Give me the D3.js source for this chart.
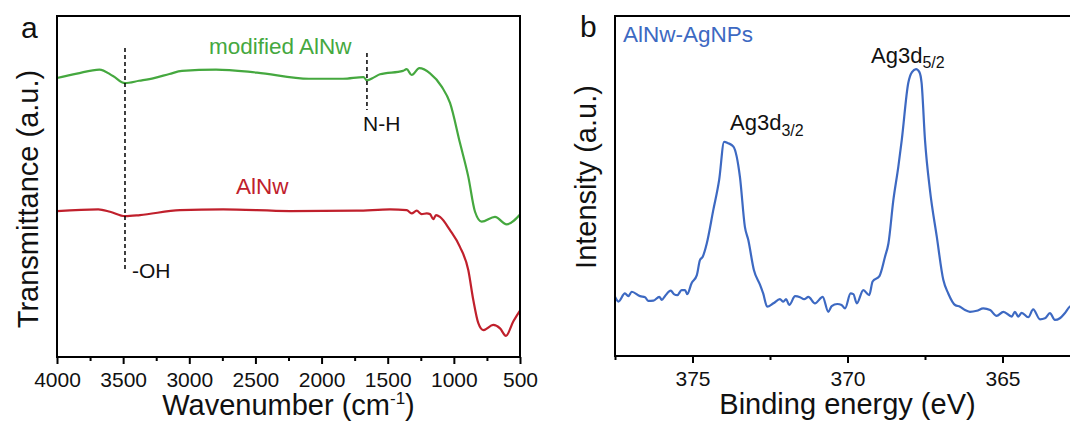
<!DOCTYPE html>
<html>
<head>
<meta charset="utf-8">
<script src="https://cdn.jsdelivr.net/npm/d3@7"></script>
<style>
  html, body { margin: 0; padding: 0; background: #fff; }
  svg { display: block; font-family: "Liberation Sans", Arial, sans-serif; }
</style>
</head>
<body>
<svg id="chart" width="1070" height="425"></svg>
<script>
// ---------------- Panel a: FTIR data ----------------
const modifiedWavenumber = [4000, 3850, 3679, 3577, 3486, 3380, 3267, 3150, 3055, 2798, 2488, 2095, 1838, 1683, 1657, 1604, 1558, 1385, 1357, 1319, 1261, 1180, 1092, 1029, 954, 891, 840, 790, 689, 601, 500];
const modifiedTransmittance = [81.8, 83.1, 84.3, 82.4, 80.3, 81.0, 81.8, 83.0, 83.9, 84.3, 83.4, 81.6, 81.6, 82.1, 81.1, 82.0, 82.9, 83.9, 84.4, 82.7, 84.7, 83.2, 79.3, 74.5, 62.8, 52.9, 42.6, 39.7, 41.1, 38.9, 41.8];

const pristineWavenumber = [4000, 3688, 3599, 3486, 3373, 3070, 2745, 2239, 1735, 1483, 1357, 1319, 1281, 1243, 1205, 1180, 1156, 1135, 1105, 1029, 954, 891, 853, 815, 778, 702, 651, 606, 551, 500];
const pristineTransmittance = [42.8, 43.3, 42.6, 41.3, 41.6, 43.1, 43.3, 42.8, 42.9, 43.3, 43.1, 42.1, 42.9, 41.9, 42.1, 41.9, 40.4, 41.6, 41.1, 37.2, 32.3, 25.5, 16.7, 9.9, 7.9, 9.4, 8.4, 6.2, 10.4, 13.6];

const irMajorTicks = [4000, 3500, 3000, 2500, 2000, 1500, 1000, 500];
const irMinorTicks = [3750, 3250, 2750, 2250, 1750, 1250, 750];
const markerOH = 3486;
const markerNH = 1657;

// ---------------- Panel b: XPS data ----------------
const bindingEnergy = [377.50, 377.39, 377.18, 377.07, 376.96, 376.69, 376.53, 376.43, 376.26, 376.07, 375.99, 375.89, 375.70, 375.60, 375.49, 375.35, 375.24, 375.17, 375.03, 374.86, 374.76, 374.67, 374.54, 374.33, 374.14, 373.98, 373.85, 373.68, 373.47, 373.31, 373.20, 373.02, 372.82, 372.72, 372.59, 372.39, 372.18, 372.07, 371.98, 371.88, 371.69, 371.53, 371.40, 371.26, 371.05, 370.80, 370.62, 370.51, 370.33, 370.19, 370.08, 369.90, 369.81, 369.70, 369.49, 369.30, 369.19, 368.97, 368.79, 368.68, 368.52, 368.36, 368.25, 368.04, 367.92, 367.79, 367.68, 367.61, 367.50, 367.34, 367.12, 366.91, 366.75, 366.53, 366.37, 366.21, 366.05, 365.83, 365.62, 365.40, 365.19, 364.97, 364.70, 364.60, 364.49, 364.38, 364.17, 364.01, 363.79, 363.63, 363.47, 363.31, 363.15, 362.99, 362.82, 362.66];
const xpsIntensity = [17.4, 16.0, 18.4, 17.6, 18.9, 17.6, 17.3, 16.2, 16.3, 17.4, 16.5, 17.6, 19.2, 18.2, 17.9, 19.4, 19.4, 18.2, 21.4, 23.8, 28.2, 29.2, 33.1, 42.9, 51.8, 63.0, 62.6, 61.6, 52.7, 38.0, 34.1, 25.3, 20.9, 18.4, 14.5, 15.5, 16.7, 16.0, 16.7, 15.0, 17.6, 17.3, 16.7, 17.4, 15.5, 17.4, 13.0, 14.7, 15.3, 15.0, 14.0, 18.4, 18.2, 15.5, 19.4, 17.9, 21.9, 23.5, 29.2, 33.1, 45.9, 55.7, 63.5, 80.3, 83.5, 84.4, 83.5, 80.3, 63.5, 48.8, 35.1, 22.4, 18.4, 15.0, 14.5, 13.5, 13.0, 13.3, 14.0, 13.5, 11.8, 13.0, 11.6, 13.0, 11.6, 12.7, 11.4, 13.7, 10.8, 11.1, 12.6, 10.6, 11.1, 12.6, 14.6, 15.0];

const xpsMajorTicks = [375, 370, 365];
const xpsMinorTicks = [377.5, 372.5, 367.5, 362.5];

// ---------------- Drawing ----------------
const svg = d3.select("#chart");
const colGreen = "#45a83f";
const colRed = "#c0202c";
const colBlue = "#3d69c2";

function drawXAxis(g, x, y0, major, minor, fmt) {
  g.append("g")
    .attr("transform", `translate(0,${y0})`)
    .call(d3.axisBottom(x).tickValues(major).tickSizeInner(7).tickSizeOuter(0).tickPadding(8).tickFormat(fmt))
    .call(a => a.select(".domain").remove())
    .call(a => a.selectAll("line").attr("stroke", "#000").attr("stroke-width", 2))
    .call(a => a.selectAll("text").attr("fill", "#111").attr("font-size", 21).attr("font-family", "Liberation Sans, Arial, sans-serif"));
  g.append("g")
    .attr("transform", `translate(0,${y0})`)
    .call(d3.axisBottom(x).tickValues(minor).tickSizeInner(4).tickSizeOuter(0).tickFormat(""))
    .call(a => a.select(".domain").remove())
    .call(a => a.selectAll("line").attr("stroke", "#000").attr("stroke-width", 2));
}

// ---- Panel a ----
const ax = { l: 57, r: 520, t: 16, b: 357 };
const xA = d3.scaleLinear().domain([4000, 500]).range([ax.l, ax.r]);
const yA = d3.scaleLinear().domain([0, 100]).range([ax.b, ax.t]);
const gA = svg.append("g");

const lineA = (wn, tr) => d3.line().x((d, i) => xA(wn[i])).y((d, i) => yA(tr[i])).curve(d3.curveMonotoneX)(wn);

gA.append("path").attr("d", lineA(modifiedWavenumber, modifiedTransmittance))
  .attr("fill", "none").attr("stroke", colGreen).attr("stroke-width", 2.2).attr("stroke-linejoin", "round");
gA.append("path").attr("d", lineA(pristineWavenumber, pristineTransmittance))
  .attr("fill", "none").attr("stroke", colRed).attr("stroke-width", 2.2).attr("stroke-linejoin", "round");

// dashed markers
gA.append("line").attr("x1", xA(markerOH)).attr("x2", xA(markerOH)).attr("y1", 48).attr("y2", 272)
  .attr("stroke", "#000").attr("stroke-width", 1.5).attr("stroke-dasharray", "4,3");
gA.append("line").attr("x1", xA(markerNH)).attr("x2", xA(markerNH)).attr("y1", 53).attr("y2", 110)
  .attr("stroke", "#000").attr("stroke-width", 1.5).attr("stroke-dasharray", "4,3");

gA.append("rect").attr("x", ax.l).attr("y", ax.t).attr("width", ax.r - ax.l).attr("height", ax.b - ax.t)
  .attr("fill", "none").attr("stroke", "#000").attr("stroke-width", 2);

drawXAxis(gA, xA, ax.b, irMajorTicks, irMinorTicks, d3.format("d"));

gA.append("text").attr("x", 209).attr("y", 54).attr("fill", colGreen).attr("font-size", 22.5).text("modified AlNw");
gA.append("text").attr("x", 236).attr("y", 194).attr("fill", colRed).attr("font-size", 22.5).text("AlNw");
gA.append("text").attr("x", 132).attr("y", 278).attr("fill", "#111").attr("font-size", 21).text("-OH");
gA.append("text").attr("x", 363).attr("y", 131).attr("fill", "#111").attr("font-size", 21).text("N-H");
gA.append("text").attr("x", 21).attr("y", 38).attr("fill", "#111").attr("font-size", 30).text("a");

const tA = gA.append("text").attr("x", (ax.l + ax.r) / 2).attr("y", 415).attr("text-anchor", "middle")
  .attr("fill", "#111").attr("font-size", 29);
tA.append("tspan").text("Wavenumber (cm");
tA.append("tspan").attr("font-size", 17).attr("dy", -11).text("-1");
tA.append("tspan").attr("dy", 11).text(")");

gA.append("text").attr("transform", "translate(38,199) rotate(-90)").attr("text-anchor", "middle")
  .attr("fill", "#111").attr("font-size", 29).text("Transmittance (a.u.)");

// ---- Panel b ----
const bx = { l: 615, r: 1080, t: 16, b: 356 };
const xB = d3.scaleLinear().domain([377.5, 362.5]).range([bx.l, bx.r]);
const yB = d3.scaleLinear().domain([0, 100]).range([bx.b, bx.t]);
const gB = svg.append("g");

gB.append("path")
  .attr("d", d3.line().x((d, i) => xB(bindingEnergy[i])).y((d, i) => yB(xpsIntensity[i])).curve(d3.curveMonotoneX)(bindingEnergy))
  .attr("fill", "none").attr("stroke", colBlue).attr("stroke-width", 2.2).attr("stroke-linejoin", "round");

gB.append("rect").attr("x", bx.l).attr("y", bx.t).attr("width", bx.r - bx.l).attr("height", bx.b - bx.t)
  .attr("fill", "none").attr("stroke", "#000").attr("stroke-width", 2);

drawXAxis(gB, xB, bx.b, xpsMajorTicks, xpsMinorTicks, d3.format("d"));

gB.append("text").attr("x", 580).attr("y", 37).attr("fill", "#111").attr("font-size", 30).text("b");
gB.append("text").attr("x", 623).attr("y", 42).attr("fill", colBlue).attr("font-size", 22.5).text("AlNw-AgNPs");

const p1 = gB.append("text").attr("x", 730).attr("y", 130).attr("fill", "#111").attr("font-size", 22);
p1.append("tspan").text("Ag3d");
p1.append("tspan").attr("font-size", 16).attr("dy", 6).text("3/2");
const p2 = gB.append("text").attr("x", 871).attr("y", 63).attr("fill", "#111").attr("font-size", 22);
p2.append("tspan").text("Ag3d");
p2.append("tspan").attr("font-size", 16).attr("dy", 5).text("5/2");

gB.append("text").attr("x", (bx.l + bx.r) / 2).attr("y", 414).attr("text-anchor", "middle")
  .attr("fill", "#111").attr("font-size", 29).text("Binding energy (eV)");

gB.append("text").attr("transform", "translate(596,177) rotate(-90)").attr("text-anchor", "middle")
  .attr("fill", "#111").attr("font-size", 29).text("Intensity (a.u.)");
</script>
</body>
</html>
